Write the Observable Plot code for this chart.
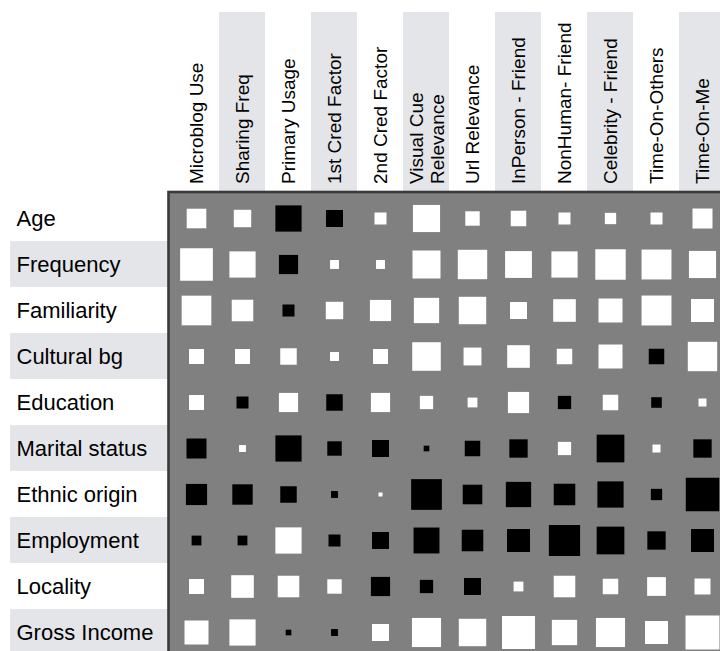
<!DOCTYPE html>
<html><head><meta charset="utf-8">
<script src="https://cdn.jsdelivr.net/npm/d3@7"></script>
<script src="https://cdn.jsdelivr.net/npm/@observablehq/plot@0.6"></script>
<style>
html,body{margin:0;padding:0;background:#fff;overflow:hidden}
#chart svg{display:block;overflow:hidden}
</style></head><body><div id="chart"></div>
<script>
// Column categories (survey items)
const columns = ["Microblog Use","Sharing Freq","Primary Usage","1st Cred Factor","2nd Cred Factor","Visual Cue\nRelevance","Url Relevance","InPerson - Friend","NonHuman- Friend","Celebrity - Friend","Time-On-Others","Time-On-Me"];
// Row categories (demographics)
const rows = ["Age","Frequency","Familiarity","Cultural bg","Education","Marital status","Ethnic origin","Employment","Locality","Gross Income"];

// Signed weights per row (area of square ∝ |w|, white = positive, black = negative)
const age          = [ 0.24,  0.19, -0.43, -0.18,  0.09,  0.46,  0.13,  0.15,  0.09,  0.08,  0.09,  0.25];
const frequency    = [ 0.67,  0.43, -0.23,  0.05,  0.05,  0.49,  0.54,  0.45,  0.43,  0.58,  0.56,  0.46];
const familiarity  = [ 0.55,  0.29, -0.09,  0.19,  0.28,  0.40,  0.47,  0.18,  0.32,  0.36,  0.56,  0.33];
const culturalBg   = [ 0.14,  0.14,  0.17,  0.05,  0.14,  0.51,  0.20,  0.32,  0.15,  0.36, -0.15,  0.54];
const education    = [ 0.14, -0.09,  0.23, -0.17,  0.23,  0.11,  0.06,  0.28, -0.11,  0.15, -0.07,  0.04];
const marital      = [-0.25,  0.03, -0.43, -0.13, -0.18, -0.02, -0.15, -0.21,  0.11, -0.48,  0.04, -0.21];
const ethnic       = [-0.28, -0.26, -0.17, -0.03,  0.01, -0.59, -0.24, -0.40, -0.29, -0.43, -0.08, -0.70];
const employment   = [-0.06, -0.06,  0.43, -0.09, -0.18, -0.42, -0.29, -0.33, -0.61, -0.48, -0.21, -0.33];
const locality     = [ 0.14,  0.32,  0.29,  0.13, -0.23, -0.11, -0.18,  0.06,  0.29,  0.15,  0.22,  0.16];
const grossIncome  = [ 0.36,  0.43, -0.02, -0.03,  0.18,  0.53,  0.47,  0.68,  0.40,  0.53,  0.33,  0.72];

const weights = [age, frequency, familiarity, culturalBg, education, marital, ethnic, employment, locality, grossIncome];
const data = rows.flatMap((r, i) => columns.map((c, j) => ({row: r, col: c, w: weights[i][j]})));

const chart = Plot.plot({
  width: 720,
  height: 651,
  marginLeft: 168,
  marginTop: 191.5,
  marginRight: -9.6,
  marginBottom: -6.5,
  x: {domain: columns, padding: 0, axis: null},
  y: {domain: rows, padding: 0, axis: null},
  r: {type: "sqrt", domain: [0, 1], range: [0, 40 / Math.sqrt(Math.PI)]},
  style: {fontFamily: "'Liberation Sans', Arial, Helvetica, sans-serif", background: "white", overflow: "hidden"},
  marks: [
    Plot.cell(columns.filter((d, i) => i % 2 === 1), {x: d => d, fill: "#e4e5e9", insetTop: -179.5}),
    Plot.cell(rows.filter((d, i) => i % 2 === 1), {y: d => d, fill: "#e4e5e9", insetLeft: -158}),
    Plot.frame({fill: "#808080"}),
    Plot.dot(data.filter(d => d.w > 0), {x: "col", y: "row", r: d => d.w, symbol: "square", fill: "white"}),
    Plot.dot(data.filter(d => d.w < 0), {x: "col", y: "row", r: d => -d.w, symbol: "square", fill: "black"}),
    Plot.frame({stroke: "#3a3a3a", strokeWidth: 2.6}),
    Plot.text(columns, {x: d => d, text: d => d, frameAnchor: "top", rotate: -90, textAnchor: "start", lineAnchor: "middle", lineHeight: 1.1, dy: -8, fontSize: 19, fill: "black"}),
    Plot.text(rows, {y: d => d, text: d => d, frameAnchor: "left", textAnchor: "start", dx: -152, fontSize: 22, fill: "black"})
  ]
});
document.getElementById("chart").appendChild(chart);
</script>
</body></html>
